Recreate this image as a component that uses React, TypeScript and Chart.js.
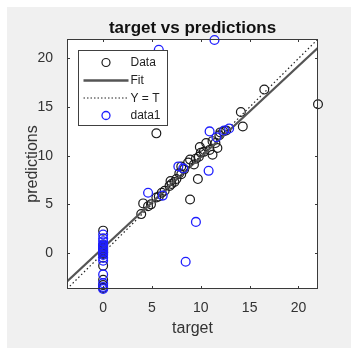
import React, { useEffect, useRef } from "react";
import { Chart, registerables } from "chart.js";

Chart.register(...registerables);

// ---- data ----
const titleText = "target vs predictions";
const xLabel = "target";
const yLabel = "predictions";
const axisMin = -3.7;
const axisMax = 22;
const xTickValues = [0, 5, 10, 15, 20];
const yTickValues = [0, 5, 10, 15, 20];

// black circles ("Data")
const dataTarget = [
  0, 0, 0, 0, 0, 0, 0, 0, 0, 0, 0, 0, 0, 0, 0,
  3.9, 4.1, 4.6, 4.9, 5.45, 5.7, 5.45, 6.0, 6.3, 6.8, 7.0, 6.9, 7.3, 7.5, 7.8, 8.0, 8.0, 8.3,
  8.7, 8.9, 8.9, 9.3, 9.5, 9.7, 9.8, 9.9, 10.0, 10.3, 10.55, 10.9, 11.2, 11.2, 11.7, 11.5,
  11.9, 12.0, 12.3, 12.6, 14.1, 14.3, 16.5, 22.0,
];
const dataPred = [
  2.3, 0.8, 0.7, 0.55, 0.45, 0.35, 0.25, 0.15, 0.05, 0.0, -0.1, -1.3, -2.75, -3.3, -3.6,
  4.0, 5.1, 4.8, 5.0, 5.7, 5.8, 12.3, 6.2, 6.4, 6.9, 7.1, 7.4, 7.3, 7.6, 8.2, 8.1, 8.9, 8.6,
  9.3, 9.6, 5.5, 9.1, 9.7, 7.6, 9.9, 10.9, 10.3, 10.4, 11.3, 10.6, 10.1, 11.5, 10.8, 11.3,
  12.1, 12.4, 12.5, 12.6, 14.5, 13.0, 16.8, 15.3,
];

// blue circles ("data1")
const blueTarget = [
  0, 0, 0, 0, 0, 0, 0, 0, 0, 0, 0, 0, 0, 0, 0, 0,
  5.7, 11.4, 4.6, 6.1, 7.7, 8.2, 10.9, 11.6, 12.4, 12.9, 10.8, 9.5, 8.45,
];
const bluePred = [
  1.9, 1.5, 1.2, 0.9, 0.75, 0.6, 0.4, 0.2, 0.05, -0.2, -0.5, -0.8, -2.2, -3.1, -3.5, -3.7,
  20.9, 21.9, 6.2, 5.9, 8.9, 8.7, 12.5, 11.9, 12.6, 12.8, 8.45, 3.2, -0.9,
];

// fit line endpoints and identity line endpoints
const fitX = [-3.7, 22];
const fitY = [-2.93, 21.1];
const identX = [-3.7, 22];
const identY = [-3.7, 22];

const legendLabels = ["Data", "Fit", "Y = T", "data1"];

// ---- styles ----
const FONT = "'Liberation Sans', Arial, Helvetica, sans-serif";
const AXIS_COLOR = "#3a3a3a";
const TEXT_COLOR = "#333333";
const BLACK_MARK = "#1a1a1a";
const BLUE_MARK = "#1f1fff";
const FIT_COLOR = "#555555";
const IDENT_COLOR = "#222222";

const toPts = (xs: number[], ys: number[]) => xs.map((x, i) => ({ x, y: ys[i] }));

const framePlugin = {
  id: "matlabFrame",
  beforeDraw(chart: any) {
    const { ctx, chartArea: ca } = chart;
    ctx.save();
    ctx.fillStyle = "#ffffff";
    ctx.fillRect(ca.left, ca.top, ca.right - ca.left, ca.bottom - ca.top);
    ctx.restore();
  },
  afterDatasetsDraw(chart: any) {
    const { ctx, chartArea: ca } = chart;
    const xs = chart.scales.x;
    const ys = chart.scales.y;
    ctx.save();
    // box
    ctx.strokeStyle = AXIS_COLOR;
    ctx.lineWidth = 1;
    ctx.strokeRect(Math.round(ca.left) + 0.5, Math.round(ca.top) + 0.5,
      Math.round(ca.right - ca.left) - 1, Math.round(ca.bottom - ca.top) - 1);
    // inside ticks on all four sides
    const tl = 3;
    ctx.beginPath();
    xs.ticks.forEach((t: any) => {
      const px = Math.round(xs.getPixelForValue(t.value)) + 0.5;
      ctx.moveTo(px, ca.bottom);
      ctx.lineTo(px, ca.bottom - tl);
      ctx.moveTo(px, ca.top);
      ctx.lineTo(px, ca.top + tl);
    });
    ys.ticks.forEach((t: any) => {
      const py = Math.round(ys.getPixelForValue(t.value)) + 0.5;
      ctx.moveTo(ca.left, py);
      ctx.lineTo(ca.left + tl, py);
      ctx.moveTo(ca.right, py);
      ctx.lineTo(ca.right - tl, py);
    });
    ctx.stroke();

    // legend box
    const bx = Math.round(ca.left + 11) + 0.5;
    const by = Math.round(ca.top + 11) + 0.5;
    const bw = 89;
    const bh = 75;
    ctx.fillStyle = "#ffffff";
    ctx.fillRect(bx, by, bw, bh);
    ctx.strokeStyle = "#404040";
    ctx.lineWidth = 1;
    ctx.strokeRect(bx, by, bw, bh);

    const rows = [12, 30, 47.5, 65];
    const sx0 = bx + 5;
    const sx1 = bx + 50;
    const mx = bx + 27.5;
    // Data
    ctx.strokeStyle = BLACK_MARK;
    ctx.lineWidth = 1.2;
    ctx.beginPath();
    ctx.arc(mx, by + rows[0], 4, 0, Math.PI * 2);
    ctx.stroke();
    // Fit
    ctx.strokeStyle = FIT_COLOR;
    ctx.lineWidth = 2.5;
    ctx.beginPath();
    ctx.moveTo(sx0, by + rows[1]);
    ctx.lineTo(sx1, by + rows[1]);
    ctx.stroke();
    // Y = T
    ctx.strokeStyle = IDENT_COLOR;
    ctx.lineWidth = 1;
    ctx.setLineDash([1.5, 2]);
    ctx.beginPath();
    ctx.moveTo(sx0, by + rows[2]);
    ctx.lineTo(sx1, by + rows[2]);
    ctx.stroke();
    ctx.setLineDash([]);
    // data1
    ctx.strokeStyle = BLUE_MARK;
    ctx.lineWidth = 1.3;
    ctx.beginPath();
    ctx.arc(mx, by + rows[3], 4, 0, Math.PI * 2);
    ctx.stroke();

    ctx.fillStyle = "#222222";
    ctx.font = `12px ${FONT}`;
    ctx.textBaseline = "middle";
    ctx.textAlign = "left";
    legendLabels.forEach((lab, i) => {
      ctx.fillText(lab, bx + 52, by + rows[i] + 0.5);
    });
    ctx.restore();
  },
};

export default function App() {
  const ref = useRef<HTMLCanvasElement | null>(null);

  useEffect(() => {
    if (!ref.current) return;
    const chart = new Chart(ref.current, {
      type: "scatter",
      data: {
        datasets: [
          {
            label: legendLabels[3],
            data: toPts(blueTarget, bluePred),
            pointStyle: "circle",
            pointRadius: 4.4,
            borderColor: BLUE_MARK,
            backgroundColor: "rgba(0,0,0,0)",
            borderWidth: 1.3,
            clip: false,
            order: 0,
          } as any,
          {
            label: legendLabels[2],
            data: toPts(identX, identY),
            showLine: true,
            pointRadius: 0,
            borderColor: IDENT_COLOR,
            borderWidth: 1.2,
            borderDash: [1.5, 2.5],
            order: 1,
          } as any,
          {
            label: legendLabels[1],
            data: toPts(fitX, fitY),
            showLine: true,
            pointRadius: 0,
            borderColor: FIT_COLOR,
            borderWidth: 2.3,
            order: 2,
          } as any,
          {
            label: legendLabels[0],
            data: toPts(dataTarget, dataPred),
            pointStyle: "circle",
            pointRadius: 4.4,
            borderColor: BLACK_MARK,
            backgroundColor: "rgba(0,0,0,0)",
            borderWidth: 1.2,
            clip: false,
            order: 3,
          } as any,
        ],
      },
      options: {
        animation: false,
        responsive: false,
        devicePixelRatio: 1,
        layout: { padding: { left: 0, right: 33, top: 0, bottom: 0 } },
        plugins: {
          legend: { display: false },
          tooltip: { enabled: false },
          title: {
            display: true,
            text: titleText,
            fullSize: false,
            color: "#111111",
            font: { family: FONT, size: 17, weight: "bold" },
            padding: { top: 10.8, bottom: 0.8 },
          } as any,
        },
        scales: {
          x: {
            type: "linear",
            position: "bottom",
            min: axisMin,
            max: axisMax,
            grid: { display: false },
            border: { display: false },
            afterBuildTicks: (s: any) => {
              s.ticks = xTickValues.map((v) => ({ value: v }));
            },
            afterFit: (s: any) => {
              s.height = 59;
            },
            ticks: {
              padding: 3,
              color: TEXT_COLOR,
              font: { family: FONT, size: 14 },
              maxRotation: 0,
            },
            title: {
              display: true,
              text: xLabel,
              color: TEXT_COLOR,
              font: { family: FONT, size: 16 },
              padding: { top: 0, bottom: 9.4 },
            },
          },
          y: {
            type: "linear",
            position: "left",
            min: axisMin,
            max: axisMax,
            grid: { display: false },
            border: { display: false },
            afterBuildTicks: (s: any) => {
              s.ticks = yTickValues.map((v) => ({ value: v }));
            },
            afterFit: (s: any) => {
              s.width = 60;
            },
            ticks: {
              padding: 6,
              color: TEXT_COLOR,
              font: { family: FONT, size: 14 },
            },
            title: {
              display: true,
              text: yLabel,
              color: TEXT_COLOR,
              font: { family: FONT, size: 16 },
              padding: { top: 16, bottom: 0 },
            },
          },
        },
      } as any,
      plugins: [framePlugin],
    });
    return () => chart.destroy();
  }, []);

  return (
    <div
      style={{
        position: "absolute",
        left: 7,
        top: 7,
        width: 344,
        height: 341,
        background: "#f0f0f0",
      }}
    >
      <canvas ref={ref} width={344} height={341} style={{ display: "block" }} />
    </div>
  );
}
